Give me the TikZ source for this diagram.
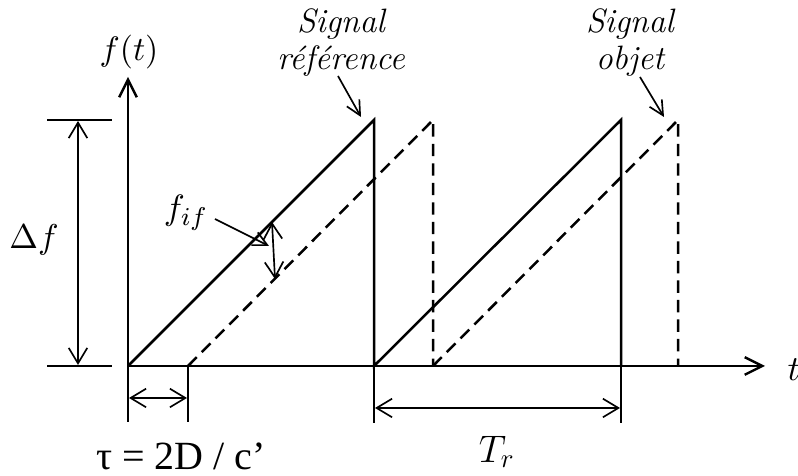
\documentclass[tikz,border=0pt]{standalone}
\usepackage{fontspec}
\usetikzlibrary{arrows.meta}
\newfontfamily\tnr{Liberation Serif}
\begin{document}
\begin{tikzpicture}[x=0.42pt,y=-0.42pt,
  main/.style={line width=1.05pt},
  dsh/.style={line width=1.05pt, dash pattern=on 5.2pt off 3pt},
  dim/.style={line width=0.7pt},
  bigtip/.style={-{Straight Barb[length=7.4pt,width=7.4pt,line width=1pt]}},
  dimtips/.style={{Straight Barb[length=6.5pt,width=7.8pt,line width=0.7pt]}-{Straight Barb[length=6.5pt,width=7.8pt,line width=0.7pt]}},
  ptr/.style={line width=0.7pt,-{Straight Barb[length=6pt,width=6pt,line width=0.7pt]}},
  lbl/.style={font=\fontsize{10.95}{12}\selectfont, inner sep=0pt},
  biglbl/.style={font=\fontsize{14.4}{16}\selectfont, inner sep=0pt},
  taulbl/.style={font=\fontsize{16.8}{18}\selectfont, inner sep=0pt},
  sig/.style={font=\fontsize{14.2}{15.5}\selectfont\itshape, align=center, inner sep=0pt}]
\useasboundingbox (0,0) rectangle (798,476);
% key points
\coordinate (O) at (128,366);
\coordinate (Ytop) at (128,77);
\coordinate (Xend) at (765,366);
\coordinate (A1t) at (374,120);
\coordinate (A1b) at (374,366);
\coordinate (A2t) at (621,120);
\coordinate (A2b) at (621,366);
\coordinate (D0) at (188,366);
\coordinate (D1t) at (433,120);
\coordinate (D1b) at (433,366);
\coordinate (D2t) at (678,120);
\coordinate (D2b) at (678,366);
% axes
\draw[main,bigtip] (O) -- (Ytop);
\draw[main,bigtip] (O) -- (Xend);
% reference signal
\draw[main] (O) -- (A1t) -- (A1b) -- (A2t) -- (A2b);
% object signal
\draw[dsh] (D0) -- (D1t) -- (D1b);
\draw[dsh] (D1b) -- (D2t) -- (D2b);
% Delta f
\coordinate (Dft1) at (47,120); \coordinate (Dft2) at (112,120);
\coordinate (Dfb1) at (47,366); \coordinate (Dfb2) at (112,366);
\draw[dim] (Dft1) -- (Dft2);
\draw[dim] (Dfb1) -- (Dfb2);
\coordinate (DfA) at (78,121); \coordinate (DfB) at (78,365);
\draw[dim,dimtips] (DfA) -- (DfB);
\node[lbl] (df) at (34,240) {\scalebox{1.32}{$\Delta f$}};
% tau
\coordinate (tk1) at (128,422); \coordinate (tk2) at (188,422);
\draw[dim] (O) -- (tk1);
\draw[dim] (D0) -- (tk2);
\coordinate (tauA) at (129,398); \coordinate (tauB) at (187,398);
\draw[dim,dimtips] (tauA) -- (tauB);
\node[taulbl] (tau) at (181,456) {\tnr τ = 2D / c’};
% T_r
\coordinate (tr1) at (374,423); \coordinate (tr2) at (621,423);
\draw[dim] (A1b) -- (tr1);
\draw[dim] (A2b) -- (tr2);
\coordinate (trA) at (375,408); \coordinate (trB) at (620,408);
\draw[dim,dimtips] (trA) -- (trB);
\node[biglbl] (Tr) at (497,452) {\scalebox{1.12}{$T_r$}};
% f_if
\coordinate (fifA) at (272,222); \coordinate (fifB) at (275,279);
\draw[dim,dimtips] (fifA) -- (fifB);
\node[lbl] (fif) at (186,213) {\scalebox{1.35}{$f_{if}$}};
\coordinate (fifS) at (215,219); \coordinate (fifE) at (269,246);
\draw[ptr] (fifS) -- (fifE);
% labels
\node[lbl] (ft) at (129,52) {\scalebox{1.3}{$f(t)$}};
\node[lbl] (t) at (794,370) {\scalebox{1.35}{$t$}};
\node[sig] (sref) at (341,43) {Signal\\référence};
\coordinate (srefS) at (338,76); \coordinate (srefE) at (361,117);
\draw[ptr] (srefS) -- (srefE);
\node[sig] (sobj) at (630,43) {Signal\\objet};
\coordinate (sobjS) at (640,77); \coordinate (sobjE) at (664,117);
\draw[ptr] (sobjS) -- (sobjE);
\end{tikzpicture}
\end{document}
